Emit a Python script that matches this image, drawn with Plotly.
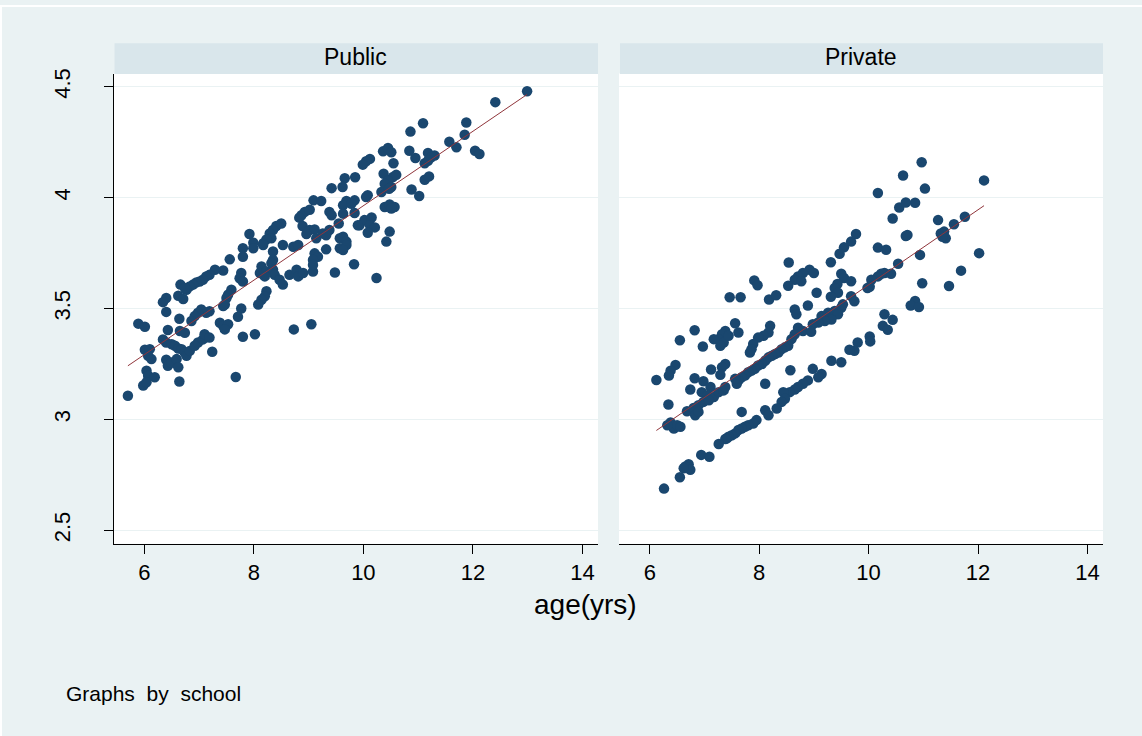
import numpy as np
import plotly.graph_objects as go

# ---------------- data ----------------
public_age = [
    12.99, 12.41, 11.09, 10.86, 11.88, 11.85, 11.57, 11.70, 12.04, 12.12,
    10.36, 10.45, 10.51, 10.84, 10.95, 11.18, 11.24, 11.30, 11.12, 11.18,
    10.12, 10.05, 9.99, 10.55, 10.37, 10.54, 10.60, 10.45, 10.39, 10.51,
    10.33, 10.47, 11.12, 11.20, 10.88, 11.02, 10.08, 10.05, 10.39, 10.48,
    10.57, 10.51, 9.93, 10.02, 10.15, 10.12, 10.21, 10.08, 10.48, 10.42,
    10.24,
    9.85, 9.66, 9.42, 9.62, 9.09, 9.23, 9.69, 9.84, 9.63, 9.78,
    9.38, 9.42, 9.63, 9.84, 8.87, 8.93, 9.02, 8.83, 8.89, 9.02,
    9.11, 8.96, 9.14, 9.26, 9.38, 9.32, 9.55, 9.90, 8.50, 8.41,
    8.35, 8.29, 8.32, 8.23, 8.17, 7.92, 7.99, 9.57, 9.63, 9.69,
    7.80, 7.99, 8.17, 8.35, 8.53, 8.72, 8.81, 9.32, 9.57, 9.69,
    9.63, 7.80, 8.35, 8.32, 9.11, 9.17, 9.08, 7.56, 7.44, 7.29,
    7.19, 7.13, 7.07, 7.01, 6.95, 6.89, 6.83, 6.77, 6.66, 6.74,
    7.77, 7.74, 7.80, 8.14, 8.11, 8.23, 8.35, 8.38, 8.20, 8.47,
    8.53, 8.65, 8.78, 8.81, 8.90, 9.08, 9.08, 9.48, 9.83, 6.40,
    6.34, 6.62, 6.71, 6.40, 7.59, 7.53, 7.50, 7.47, 7.44, 8.23,
    8.20, 8.14, 8.08, 7.77, 7.71, 7.19, 7.13, 7.04, 6.98, 6.92,
    6.86, 6.64, 7.38, 7.44, 7.53, 7.47, 5.89, 6.01, 6.43, 6.65,
    6.74, 6.34, 6.40, 6.50, 6.56, 6.62, 6.68, 6.74, 6.77, 6.83,
    6.92, 6.98, 7.07, 7.10, 7.19, 7.24, 7.80, 8.02, 8.73, 9.05,
    6.01, 6.10, 6.07, 6.13, 6.40, 6.43, 6.50, 6.59, 6.62, 6.04,
    6.07, 6.19, 5.98, 6.04, 6.64, 7.67, 5.70,
]
public_logv = [
    4.480, 4.431, 4.336, 4.298, 4.339, 4.284, 4.252, 4.227, 4.212, 4.197,
    4.209, 4.224, 4.205, 4.212, 4.179, 4.202, 4.182, 4.190, 4.155, 4.167,
    4.175, 4.164, 4.149, 4.155, 4.108, 4.093, 4.103, 4.078, 4.063, 4.048,
    4.026, 4.040, 4.081, 4.096, 4.037, 4.008, 4.011, 4.003, 3.958, 3.969,
    3.958, 3.951, 3.876, 3.899, 3.911, 3.876, 3.866, 3.842, 3.847, 3.802,
    3.638,
    4.092, 4.088, 4.043, 4.048, 3.988, 3.985, 3.985, 3.988, 3.966, 3.973,
    3.936, 3.921, 3.928, 3.931, 3.921, 3.936, 3.946, 3.910, 3.872, 3.854,
    3.857, 3.836, 3.817, 3.839, 3.854, 3.831, 3.884, 3.876, 3.884, 3.872,
    3.854, 3.839, 3.817, 3.812, 3.794, 3.836, 3.797, 3.817, 3.824, 3.802,
    3.772, 3.772, 3.787, 3.757, 3.787, 3.779, 3.787, 3.767, 3.772, 3.787,
    3.764, 3.734, 3.719, 3.705, 3.749, 3.734, 3.719, 3.722, 3.672, 3.675,
    3.652, 3.645, 3.630, 3.622, 3.618, 3.608, 3.600, 3.585, 3.608, 3.593,
    3.660, 3.637, 3.622, 3.690, 3.660, 3.667, 3.675, 3.652, 3.645, 3.630,
    3.608, 3.652, 3.675, 3.645, 3.660, 3.667, 3.697, 3.663, 3.700, 3.548,
    3.529, 3.558, 3.543, 3.485, 3.585, 3.563, 3.548, 3.518, 3.511, 3.578,
    3.555, 3.540, 3.518, 3.500, 3.463, 3.488, 3.481, 3.496, 3.481, 3.466,
    3.444, 3.454, 3.436, 3.421, 3.429, 3.406, 3.432, 3.418, 3.403, 3.399,
    3.391, 3.361, 3.347, 3.339, 3.332, 3.320, 3.317, 3.302, 3.287, 3.309,
    3.332, 3.347, 3.361, 3.384, 3.369, 3.305, 3.373, 3.384, 3.406, 3.429,
    3.314, 3.317, 3.287, 3.272, 3.269, 3.242, 3.257, 3.272, 3.235, 3.220,
    3.197, 3.190, 3.153, 3.168, 3.171, 3.191, 3.107,
]

private_age = [
    9.77, 9.68, 9.55, 9.47, 9.31, 8.54, 8.92, 9.00, 8.80, 8.71,
    8.65, 8.77, 8.53, 7.91, 7.97, 9.50, 9.55, 9.68, 9.43, 9.38,
    9.44, 9.31, 9.05, 7.46, 7.66, 8.18, 8.31, 9.68, 9.74,
    8.65, 8.68, 8.89, 9.14, 9.26, 9.38, 9.50, 9.44, 9.32, 9.20,
    9.08, 8.98, 9.53, 7.56, 7.38, 7.32, 7.26, 7.35, 7.29, 7.44,
    7.62, 7.17, 6.82, 6.55, 6.97, 8.20, 8.17, 8.08, 7.98, 7.89,
    7.83, 7.86, 8.71, 8.80, 8.65, 8.95, 8.59, 8.53, 8.47, 8.41,
    8.35, 8.29, 8.23, 8.17, 8.11, 8.05, 7.98, 7.92, 7.86, 7.80,
    7.74, 7.68, 7.62, 7.59, 7.56, 9.80, 9.74, 9.65, 9.50, 9.32,
    9.14, 9.08, 8.98, 8.89, 8.80, 8.71, 8.65, 8.56, 8.44, 8.47,
    8.41, 8.32, 8.57, 8.11, 6.47, 6.38, 6.35, 6.12, 7.38, 7.32,
    7.29, 7.12, 6.82, 6.98, 7.11, 6.95, 7.05, 7.17, 7.26, 7.35,
    7.38, 6.74, 6.34, 6.68, 6.80, 6.89, 6.98, 7.08, 6.83, 6.89,
    6.38, 6.44, 6.50, 6.56, 6.32, 7.68, 8.11, 8.17, 7.95, 7.89,
    7.80, 7.74, 7.68, 7.62, 7.56, 7.50, 7.44, 7.41, 7.38, 7.26,
    6.94, 7.09, 6.71, 6.65, 6.74, 6.62, 6.55, 6.26,
    10.97, 10.63, 12.11, 10.17, 11.03, 10.56, 10.68, 10.85, 10.44, 11.27,
    11.56, 11.76, 11.32, 11.38, 11.41, 11.35, 10.68, 10.71, 10.17, 10.32,
    10.94, 12.02, 10.54, 11.69, 10.29, 10.41, 10.23, 10.17, 10.05, 10.02,
    9.98, 10.98, 11.47, 10.85, 10.77, 10.92, 10.29, 10.44, 10.26, 10.35,
    10.02, 10.03,
]
private_logv = [
    3.836, 3.802, 3.776, 3.747, 3.709, 3.708, 3.675, 3.660, 3.660, 3.645,
    3.630, 3.623, 3.603, 3.627, 3.605, 3.657, 3.638, 3.623, 3.611, 3.593,
    3.571, 3.553, 3.571, 3.551, 3.551, 3.541, 3.560, 3.556, 3.533,
    3.496, 3.474, 3.514, 3.466, 3.481, 3.489, 3.504, 3.474, 3.451, 3.444,
    3.437, 3.429, 3.519, 3.434, 3.399, 3.384, 3.362, 3.347, 3.332, 3.377,
    3.392, 3.362, 3.402, 3.357, 3.329, 3.422, 3.392, 3.377, 3.369, 3.340,
    3.302, 3.317, 3.414, 3.399, 3.384, 3.395, 3.362, 3.332, 3.325, 3.317,
    3.302, 3.295, 3.287, 3.280, 3.265, 3.250, 3.243, 3.228, 3.220, 3.213,
    3.198, 3.190, 3.176, 3.161, 3.183, 3.347, 3.310, 3.314, 3.258, 3.265,
    3.205, 3.190, 3.228, 3.176, 3.161, 3.146, 3.135, 3.123, 3.123, 3.093,
    3.079, 3.049, 3.222, 3.161, 3.246, 3.220, 3.198, 3.178, 3.250, 3.235,
    3.201, 3.225, 3.186, 3.172, 3.146, 3.123, 3.108, 3.101, 3.123, 3.131,
    3.146, 3.135, 3.067, 3.037, 3.052, 3.064, 3.079, 3.086, 3.019, 3.034,
    2.986, 2.959, 2.974, 2.967, 2.974, 3.034, 3.041, 3.019, 2.997, 2.982,
    2.974, 2.967, 2.959, 2.952, 2.937, 2.929, 2.922, 2.915, 2.912, 2.889,
    2.840, 2.832, 2.798, 2.788, 2.773, 2.780, 2.739, 2.688,
    4.160, 4.100, 4.078, 4.021, 4.041, 3.956, 3.978, 3.977, 3.906, 3.899,
    3.880, 3.914, 3.839, 3.847, 3.817, 3.824, 3.827, 3.832, 3.775, 3.765,
    3.742, 3.750, 3.702, 3.671, 3.660, 3.657, 3.657, 3.645, 3.630, 3.598,
    3.593, 3.614, 3.602, 3.534, 3.514, 3.507, 3.474, 3.449, 3.422, 3.404,
    3.374, 3.352,
]

panel_titles = ["Public", "Private"]
x_tickvals = [6, 8, 10, 12, 14]
x_ticktext = ["6", "8", "10", "12", "14"]
y_tickvals = [2.5, 3, 3.5, 4, 4.5]
y_ticktext = ["2.5", "3", "3.5", "4", "4.5"]
x_title = "age(yrs)"
note_text = "Graphs\u00a0 by\u00a0 school"

# ---------------- styling ----------------
W, H = 1142, 736
BG = "#EAF2F3"
STRIP = "#D9E6EB"
MARK = "#1A476F"
FIT = "#90353B"
FONT = "Liberation Sans, Arial, sans-serif"

def px_x(p):
    return p / W

def px_y(p):
    return 1 - p / H

dom_pub = [px_x(113.5), px_x(598)]
dom_pri = [px_x(619), px_x(1103)]
dom_y = [px_y(542.5), px_y(69)]
xr = [5.437, 14.285]
yr = [2.439, 4.560]

fig = go.Figure()

for i, (ax, ay) in enumerate([(public_age, public_logv), (private_age, private_logv)]):
    xa = "x" if i == 0 else "x2"
    ya = "y" if i == 0 else "y2"
    fig.add_trace(go.Scatter(
        x=ax, y=ay, mode="markers", xaxis=xa, yaxis=ya,
        marker=dict(color=MARK, size=10.5, line=dict(width=0)),
        hoverinfo="x+y",
    ))
    b, a = np.polyfit(np.array(ax), np.array(ay), 1)
    xs = np.array([min(ax), max(ax)])
    fig.add_trace(go.Scatter(
        x=xs, y=a + b * xs, mode="lines", xaxis=xa, yaxis=ya,
        line=dict(color=FIT, width=1), hoverinfo="skip",
    ))

common_x = dict(
    range=xr, tickvals=x_tickvals, ticktext=x_ticktext,
    ticks="outside", ticklen=9, tickwidth=1, tickcolor="#000000",
    showline=True, linecolor="#000000", linewidth=1,
    showgrid=False, zeroline=False,
    tickfont=dict(family=FONT, size=22, color="#000000"),
)
fig.update_layout(
    width=W, height=H,
    margin=dict(l=0, r=0, t=0, b=0),
    paper_bgcolor=BG, plot_bgcolor="#FFFFFF",
    showlegend=False,
    font=dict(family=FONT, color="#000000"),
    xaxis=dict(domain=dom_pub, anchor="y", **common_x),
    xaxis2=dict(domain=dom_pri, anchor="y2", **common_x),
    yaxis=dict(
        domain=dom_y, anchor="x", range=yr,
        tickvals=y_tickvals, ticktext=y_ticktext, tickangle=-90,
        ticks="outside", ticklen=9, tickwidth=1, tickcolor="#000000",
        showline=True, linecolor="#000000", linewidth=1,
        showgrid=True, gridcolor=BG, gridwidth=1, zeroline=False,
        tickfont=dict(family=FONT, size=22, color="#000000"),
        ticklabelstandoff=25,
    ),
    yaxis2=dict(
        domain=dom_y, anchor="x2", range=yr,
        tickvals=y_tickvals, showticklabels=False, ticks="",
        showline=False, showgrid=True, gridcolor=BG, gridwidth=1,
        zeroline=False,
    ),
)

shapes = [
    # thin white frame at the top and left edges of the picture
    dict(type="rect", xref="paper", yref="paper", x0=0, x1=1,
         y0=px_y(2), y1=1, fillcolor="#FFFFFF", line=dict(width=0), layer="below"),
    dict(type="rect", xref="paper", yref="paper", x0=0, x1=px_x(2),
         y0=0, y1=1, fillcolor="#FFFFFF", line=dict(width=0), layer="below"),
]
annotations = []
for dom, title in zip([dom_pub, dom_pri], panel_titles):
    shapes.append(dict(
        type="rect", xref="paper", yref="paper",
        x0=dom[0] + 1 / W, x1=dom[1], y0=px_y(69.5), y1=px_y(38.5),
        fillcolor=STRIP, line=dict(width=0), layer="below",
    ))
    annotations.append(dict(
        x=(dom[0] + dom[1]) / 2, y=px_y(52.5), xref="paper", yref="paper",
        text=title, showarrow=False, xanchor="center", yanchor="middle",
        font=dict(family=FONT, size=23, color="#000000"),
    ))

annotations.append(dict(
    x=px_x(585), y=px_y(604), xref="paper", yref="paper",
    text=x_title, showarrow=False, xanchor="center", yanchor="middle",
    font=dict(family=FONT, size=28, color="#000000"),
))
annotations.append(dict(
    x=px_x(64), y=px_y(693), xref="paper", yref="paper",
    text=note_text, showarrow=False, xanchor="left", yanchor="middle",
    font=dict(family=FONT, size=21, color="#000000"),
))
fig.update_layout(shapes=shapes, annotations=annotations)

fig.write_html("out.html")
